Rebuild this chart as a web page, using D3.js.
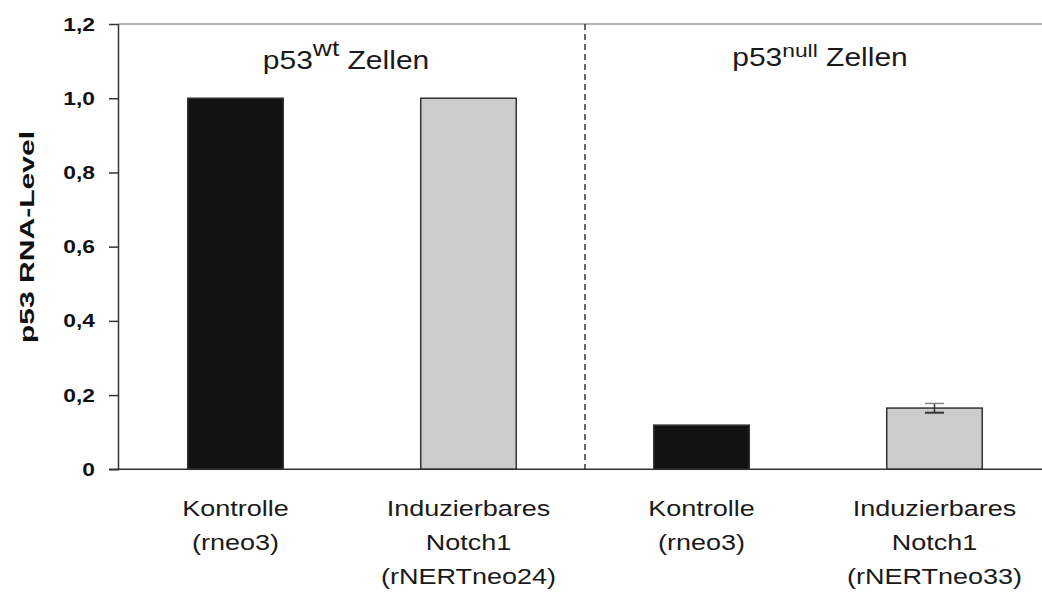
<!DOCTYPE html>
<html><head><meta charset="utf-8">
<script src="https://cdn.jsdelivr.net/npm/d3@7"></script>
<style>body{margin:0;background:#fff}svg{display:block}</style>
</head><body>
<svg id="c" width="1042" height="596"></svg>
<script>
const categories = ["k1","n1","k2","n2"];
const labels = [["Kontrolle","(rneo3)"],["Induzierbares","Notch1","(rNERTneo24)"],["Kontrolle","(rneo3)"],["Induzierbares","Notch1","(rNERTneo33)"]];
const values = [1.0, 1.0, 0.119, 0.165];
const errors = [0, 0, 0, 0.0125];
const colors = ["#121212","#cccccc","#121212","#cccccc"];
const yTicks = [0, 0.2, 0.4, 0.6, 0.8, 1.0, 1.2];
const yTickLabels = ["0","0,2","0,4","0,6","0,8","1,0","1,2"];
const groups = [{name:"wt", cats:["k1","n1"]},{name:"null", cats:["k2","n2"]}];

const FONT = "Liberation Sans, Arial, sans-serif";
const SX = 1.2;
const svg = d3.select("#c");
const x0 = 119, x1 = 1051, yTop = 24, yBot = 469.3;
const x = d3.scaleBand().domain(categories).range([x0, x1]).paddingInner(0.59).paddingOuter(0.295);
const y = d3.scaleLinear().domain([0, 1.2]).range([yBot, yTop]);

// top border line
svg.append("line").attr("x1", x0).attr("x2", 1042).attr("y1", y(1.2)).attr("y2", y(1.2))
  .attr("stroke", "#9a9a9a").attr("stroke-width", 1.5);

// dashed separator
const sepX = (x("n1") + x.bandwidth() + x("k2")) / 2;
svg.append("line").attr("x1", sepX).attr("x2", sepX).attr("y1", y(1.2)).attr("y2", y(0))
  .attr("stroke", "#444").attr("stroke-width", 1.6).attr("stroke-dasharray", "6,4");

// bars
svg.selectAll("rect.bar").data(categories).enter().append("rect")
  .attr("x", d => x(d)).attr("width", x.bandwidth())
  .attr("y", (d,i) => y(values[i])).attr("height", (d,i) => y(0) - y(values[i]))
  .attr("fill", (d,i) => colors[i]).attr("stroke", "#333").attr("stroke-width", 1.5);

// error bars
categories.forEach((d,i) => {
  if (!errors[i]) return;
  const cx = x(d) + x.bandwidth()/2;
  const g = svg.append("g");
  g.append("line").attr("x1", cx).attr("x2", cx).attr("y1", y(values[i]+errors[i])).attr("y2", y(values[i]-errors[i]))
    .attr("stroke", "#333").attr("stroke-width", 1.5);
  g.append("line").attr("x1", cx-9.5).attr("x2", cx+9.5).attr("y1", y(values[i]+errors[i])).attr("y2", y(values[i]+errors[i]))
    .attr("stroke", "#888").attr("stroke-width", 1.5);
  g.append("line").attr("x1", cx-9.5).attr("x2", cx+9.5).attr("y1", y(values[i]-errors[i])).attr("y2", y(values[i]-errors[i]))
    .attr("stroke", "#333").attr("stroke-width", 2);
});

// y axis
const yAxis = d3.axisLeft(y).tickValues(yTicks).tickFormat((d,i) => yTickLabels[i]).tickSize(10);
const ga = svg.append("g").attr("transform", `translate(${x0},0)`).call(yAxis);
ga.select(".domain").attr("stroke", "#333").attr("stroke-width", 1.5).attr("d", `M-0.5,${yTop}V${yBot}`);
ga.selectAll(".tick line").attr("stroke", "#333").attr("stroke-width", 1.5);
ga.selectAll(".tick text").attr("font-family", FONT)
  .attr("font-size", 19).attr("font-weight", "bold").attr("fill", "#111")
  .attr("x", -24 / SX).attr("transform", `scale(${SX},1)`);

// x axis baseline
svg.append("line").attr("x1", x0 - 10).attr("x2", 1042).attr("y1", y(0)).attr("y2", y(0))
  .attr("stroke", "#333").attr("stroke-width", 1.5);

// y title
svg.append("text").attr("transform", `translate(34,237) rotate(-90)`).attr("text-anchor", "middle")
  .attr("font-family", FONT).attr("font-size", 21).attr("font-weight", "bold")
  .attr("textLength", 212).attr("lengthAdjust", "spacingAndGlyphs")
  .attr("fill", "#111").text("p53 RNA-Level");

// x labels
categories.forEach((d,i) => {
  const cx = x(d) + x.bandwidth()/2;
  const t = svg.append("g").attr("transform", `translate(${cx},0) scale(${SX},1)`)
    .append("text").attr("text-anchor", "middle")
    .attr("font-family", FONT).attr("font-size", 22.5).attr("fill", "#1a1a1a");
  labels[i].forEach((l, j) => {
    t.append("tspan").attr("x", 0).attr("y", 516 + j * 34).text(l);
  });
});

// group headers
groups.forEach((g, i) => {
  const cx = (x(g.cats[0]) + x(g.cats[1]) + x.bandwidth()) / 2;
  const t = svg.append("g").attr("transform", `translate(${i === 0 ? cx - 6 : cx + 2},0) scale(${SX},1)`)
    .append("text").attr("text-anchor", "middle").attr("x", 0).attr("y", i === 0 ? 69 : 66)
    .attr("font-family", FONT).attr("font-size", 25).attr("fill", "#1a1a1a");
  t.append("tspan").text("p53");
  t.append("tspan").attr("dy", i === 0 ? -13 : -9).attr("font-size", i === 0 ? 22 : 19).text(g.name);
  t.append("tspan").attr("dy", i === 0 ? 13 : 9).text(" Zellen");
});
</script>
</body></html>
